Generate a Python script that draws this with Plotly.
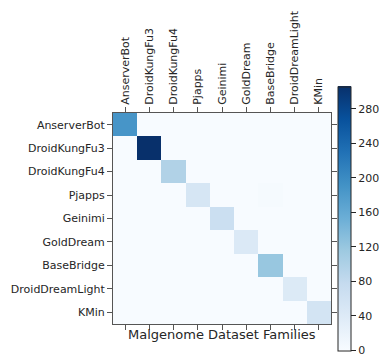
import plotly.graph_objects as go

families = ["AnserverBot", "DroidKungFu3", "DroidKungFu4", "Pjapps", "Geinimi",
            "GoldDream", "BaseBridge", "DroidDreamLight", "KMin"]

# confusion matrix values (rows = true, cols = predicted)
matrix = [
    [187, 0, 0, 0, 0, 0, 0, 0, 0],
    [0, 306, 0, 0, 0, 0, 0, 0, 0],
    [0, 0, 97, 0, 0, 0, 0, 0, 0],
    [0, 0, 0, 51, 0, 0, 3, 0, 0],
    [0, 0, 0, 0, 68, 0, 0, 0, 0],
    [0, 0, 0, 0, 0, 43, 0, 0, 0],
    [0, 0, 0, 0, 0, 0, 119, 0, 0],
    [0, 0, 0, 0, 0, 0, 0, 41, 0],
    [0, 0, 0, 0, 0, 0, 0, 0, 55],
]
cbar_ticks = [0, 40, 80, 120, 160, 200, 240, 280]

blues = [[0.0, "#f7fbff"], [0.125, "#deebf7"], [0.25, "#c6dbef"], [0.375, "#9ecae1"],
         [0.5, "#6baed6"], [0.625, "#4292c6"], [0.75, "#2171b5"], [0.875, "#08519c"],
         [1.0, "#08306b"]]

font = dict(family="DejaVu Sans", size=11, color="#262626")

fig = go.Figure(go.Heatmap(
    z=matrix, x=families, y=families, colorscale=blues, zmin=0, zmax=306,
    colorbar=dict(
        thickness=13, lenmode="pixels", len=264, x=1.032, xanchor="left", xpad=0,
        y=0.5, yanchor="middle", ypad=0,
        outlinecolor="#262626", outlinewidth=1,
        tickvals=cbar_ticks, ticks="outside", ticklen=5, tickcolor="#262626",
        tickfont=font,
    ),
))

fig.update_xaxes(side="top", tickangle=-90, ticks="outside", ticklen=5, tickcolor="#555",
                 showline=True, linecolor="#555", linewidth=1, mirror="ticks",
                 showgrid=False, zeroline=False, tickfont=font, automargin=False)
fig.update_yaxes(autorange="reversed", ticks="outside", ticklen=5, tickcolor="#555",
                 showline=True, linecolor="#555", linewidth=1, mirror="ticks",
                 showgrid=False, zeroline=False, tickfont=font, automargin=False)

fig.add_annotation(text="Malgenome Dataset Families", xref="paper", yref="paper",
                   x=0.5, y=0, yanchor="middle", yshift=-10, showarrow=False,
                   font=dict(family="DejaVu Sans", size=13, color="#262626"))

fig.update_layout(width=390, height=363, margin=dict(l=113, r=59, t=113, b=39, autoexpand=False),
                  paper_bgcolor="white", plot_bgcolor="white", font=font)

fig.write_html("out.html", config={"displayModeBar": False},
               post_script="document.body.style.margin='0';")
